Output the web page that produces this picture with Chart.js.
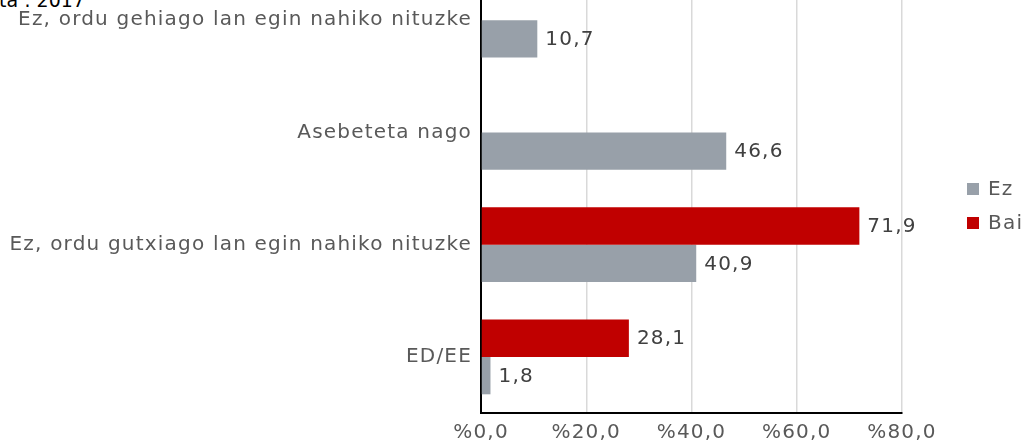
<!DOCTYPE html>
<html>
<head>
<meta charset="utf-8">
<script src="https://cdn.jsdelivr.net/npm/chart.js@4"></script>
<style>
    html, body { margin: 0; padding: 0; background: #fff; overflow: hidden; }
    body { width: 1027px; height: 444px; position: relative; }
    #chartWrap { position: absolute; left: 0; top: -40px; width: 1027px; height: 484px; }
    #cutTitle { position: absolute; left: -1px; top: -11px; font: 19px "DejaVu Sans", sans-serif; color: #000; white-space: nowrap; }
</style>
</head>
<body>
<div id="cutTitle">ta : 2017</div>
<div id="chartWrap"><canvas id="chart"></canvas></div>
<script>
    // --- Data ---
    const categories = [
        'Ez, ordu gehiago lan egin nahiko nituzke',
        'Asebeteta nago',
        'Ez, ordu gutxiago lan egin nahiko nituzke',
        'ED/EE'
    ];
    const baiValues = [null, null, 71.9, 28.1];
    const ezValues = [10.7, 46.6, 40.9, 1.8];
    const xTicks = [0, 20, 40, 60, 80];

    const FONT = 'DejaVu Sans';
    const SIZE = 20;
    const SPACING = '1.2px';

    const fmt = v => v.toFixed(1).replace('.', ',');

    // canvas letter spacing (text is spread out in the original)
    const spacingPlugin = {
        id: 'spacing',
        beforeUpdate(chart) { chart.ctx.letterSpacing = SPACING; },
        beforeDraw(chart) { chart.ctx.letterSpacing = SPACING; }
    };

    // value labels at bar ends
    const valueLabels = {
        id: 'valueLabels',
        afterDatasetsDraw(chart) {
            const ctx = chart.ctx;
            ctx.save();
            ctx.font = `${SIZE}px "${FONT}"`;
            ctx.fillStyle = '#404040';
            ctx.textBaseline = 'middle';
            ctx.textAlign = 'left';
            chart.data.datasets.forEach((ds, i) => {
                chart.getDatasetMeta(i).data.forEach((bar, j) => {
                    const v = ds.data[j];
                    if (v == null) return;
                    ctx.fillText(fmt(v), bar.x + 8, bar.y + 1);
                });
            });
            ctx.restore();
        }
    };

    // legend on the right, Ez first then Bai
    const sideLegend = {
        id: 'sideLegend',
        afterDraw(chart) {
            const ctx = chart.ctx;
            const items = chart.data.datasets.slice().reverse();
            const x = chart.chartArea.right + 65;
            let y = chart.chartArea.top + 225;
            ctx.save();
            ctx.font = `${SIZE}px "${FONT}"`;
            ctx.textBaseline = 'middle';
            ctx.textAlign = 'left';
            items.forEach(ds => {
                ctx.fillStyle = ds.backgroundColor;
                ctx.fillRect(x, y - 6, 12, 12);
                ctx.fillStyle = '#595959';
                ctx.fillText(ds.label, x + 21, y + 1);
                y += 34;
            });
            ctx.restore();
        }
    };

    new Chart(document.getElementById('chart'), {
        type: 'bar',
        data: {
            labels: categories,
            datasets: [
                { label: 'Bai', data: baiValues, backgroundColor: '#c00000' },
                { label: 'Ez', data: ezValues, backgroundColor: '#98a0a9' }
            ]
        },
        options: {
            indexAxis: 'y',
            responsive: true,
            maintainAspectRatio: false,
            animation: false,
            categoryPercentage: 0.667,
            barPercentage: 1.0,
            layout: { padding: { top: 4, left: 0, right: 125, bottom: 0 } },
            plugins: {
                tooltip: { enabled: false },
                legend: { display: false }
            },
            scales: {
                x: {
                    min: 0,
                    max: 80,
                    afterBuildTicks: scale => { scale.ticks = xTicks.map(v => ({ value: v })); },
                    afterFit: scale => { scale.height = 31; },
                    ticks: {
                        callback: v => '%' + fmt(v),
                        color: '#595959',
                        font: { family: FONT, size: SIZE },
                        padding: 8,
                        maxRotation: 0
                    },
                    grid: { color: '#d9d9d9', lineWidth: 1.5, drawTicks: false },
                    border: { color: '#000', width: 2 }
                },
                y: {
                    afterFit: scale => {
                        scale.width = 481;
                        scale.paddingTop = 0;
                        scale.paddingBottom = 0;
                    },
                    ticks: {
                        color: '#595959',
                        font: { family: FONT, size: SIZE },
                        padding: 9
                    },
                    grid: { display: false, drawTicks: false },
                    border: { color: '#000', width: 2 }
                }
            }
        },
        plugins: [spacingPlugin, valueLabels, sideLegend]
    });
</script>
</body>
</html>
